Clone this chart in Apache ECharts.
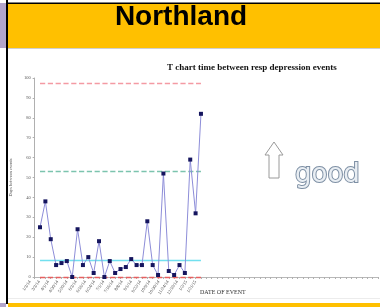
<!DOCTYPE html>
<html>
<head>
<meta charset="utf-8">
<script src="https://cdn.jsdelivr.net/npm/echarts@6/dist/echarts.min.js"></script>
<style>
  html, body { margin: 0; padding: 0; background: #fff; }
  #chart { width: 380px; height: 307px; }
</style>
</head>
<body>
<div id="chart"></div>
<script>
// days between events, one per event
const daysBetween = [25, 38, 19, 6, 7, 8, 0, 24, 6, 10, 2, 18, 0, 8, 2, 4, 5, 9, 6, 6, 28, 6, 1, 52, 3, 1, 6, 2, 59, 32, 82]
// date labels shown under the axis (blurry in the source, estimated)
const dateLabels = ['1/3/14', '3/3/14', '4/1/14', '4/30/14', '5/20/14', '6/3/14', '6/16/14', '6/24/14', '7/1/14', '7/16/14', '8/8/14', '9/1/14', '9/22/14', '10/9/14', '10/30/14', '11/24/14', '12/10/14', '1/2/15', '1/21/15']
const yTicks = [0, 10, 20, 30, 40, 50, 60, 70, 80, 90, 100]
// control lines
const ucl = 97.5
const upperWarn = 52.9
const centre = 8.5
const lcl = 0
const slotCount = 65 // category slots on the axis (mostly empty on the right)

const cats = Array.from({length: slotCount}, (_, i) => String(i))
const seriesData = cats.map((c, i) => (i >= 1 && i <= daysBetween.length ? daysBetween[i - 1] : '-'))
const firstCat = cats[1]
const lastCat = cats[daysBetween.length]

// 控制线：只画在有数据的范围内
const hline = (v, color, dashed) => {
  const ls = {color: color, width: 1.3, type: dashed ? 'dashed' : 'solid', opacity: 1}
  return {
    type: 'line',
    xAxisIndex: 0,
    yAxisIndex: 0,
    data: [],
    z: 4,
    markLine: {
      symbol: 'none',
      silent: true,
      label: {show: false},
      lineStyle: ls,
      emphasis: {disabled: true},
      data: [[{coord: [firstCat, v], lineStyle: ls}, {coord: [lastCat, v]}]],
    },
  }
}

const chart = echarts.init(document.getElementById('chart'), null, {renderer: 'canvas'})

chart.setOption({
  animation: false,
  backgroundColor: '#fff',
  title: {
    text: 'T chart time between resp depression events',
    left: 162,
    top: 58,
    textStyle: {fontFamily: 'Liberation Serif', fontWeight: 'bold', fontSize: 9, color: '#111'},
  },
  grid: [
    {left: 23, right: 2, top: 78, bottom: 30},
    {left: 30, right: 184.4, top: 78, bottom: 30},
  ],
  xAxis: [
    {
      type: 'category',
      gridIndex: 0,
      data: cats,
      boundaryGap: false,
      z: 1,
      axisLine: {lineStyle: {color: '#b8b8b8', width: 1}},
      axisTick: {show: true, interval: 0, length: 2, lineStyle: {color: '#b0b0b0'}},
      axisLabel: {show: false},
      splitLine: {show: false},
    },
    {
      type: 'category',
      gridIndex: 1,
      data: dateLabels,
      boundaryGap: false,
      axisLine: {show: false},
      axisTick: {show: false},
      axisLabel: {
        interval: 0,
        rotate: 55,
        margin: 4,
        fontSize: 4.5,
        fontFamily: 'Liberation Serif',
        color: '#444',
      },
    },
  ],
  yAxis: [
    {
      type: 'value',
      gridIndex: 0,
      min: 0,
      max: 100,
      interval: 10,
      name: 'Days between events',
      nameLocation: 'middle',
      nameGap: 9,
      nameTextStyle: {fontSize: 4.5, color: '#555', fontFamily: 'Liberation Serif'},
      axisLine: {show: true, lineStyle: {color: '#b0b0b0'}},
      axisTick: {show: true, length: 2, lineStyle: {color: '#b0b0b0'}},
      axisLabel: {
        fontSize: 4.5,
        margin: 4,
        color: '#555',
        fontFamily: 'Liberation Serif',
        formatter: (v) => (yTicks.includes(v) ? String(v) : ''),
      },
      splitLine: {show: false},
    },
    {type: 'value', gridIndex: 1, show: false, min: 0, max: 100},
  ],
  series: [
    hline(ucl, '#f49aa3', true),
    hline(upperWarn, '#7cc4ae', true),
    hline(centre, '#72e0ef', false),
    hline(lcl, '#e86060', true),
    {
      type: 'line',
      xAxisIndex: 0,
      yAxisIndex: 0,
      data: seriesData,
      connectNulls: false,
      showSymbol: true,
      showAllSymbol: true,
      symbol: 'rect',
      symbolSize: 4,
      itemStyle: {color: '#15155e'},
      lineStyle: {color: '#8d8dd8', width: 1},
      z: 6,
    },
  ],
  graphic: [
    // frame: header band, borders
    {type: 'rect', shape: {x: 0, y: 3, width: 6, height: 45}, style: {fill: '#b3a5cc'}},
    {type: 'rect', shape: {x: 8, y: 4, width: 372, height: 44}, style: {fill: '#ffc000'}},
    {type: 'rect', shape: {x: 6, y: 2.5, width: 374, height: 1.5}, style: {fill: '#000'}},
    {type: 'rect', shape: {x: 6, y: 0, width: 2, height: 304}, style: {fill: '#000'}},
    {type: 'rect', shape: {x: 8, y: 48, width: 372, height: 1}, style: {fill: '#cfcfcf'}},
    {type: 'rect', shape: {x: 8, y: 298, width: 372, height: 1}, style: {fill: '#ececec'}},
    {type: 'rect', shape: {x: 8, y: 303, width: 372, height: 4}, style: {fill: '#ffc000'}},
    {type: 'rect', shape: {x: 0, y: 303, width: 6, height: 4}, style: {fill: '#b3a5cc'}},
    {
      type: 'text',
      x: 181,
      y: 17,
      style: {
        text: 'Northland',
        font: 'bold 28px "Liberation Sans", Arial, sans-serif',
        fill: '#000',
        textAlign: 'center',
        textVerticalAlign: 'middle',
      },
    },
    {
      type: 'text',
      x: 200,
      y: 289,
      style: {text: 'DATE OF EVENT', font: '6px "Liberation Serif", serif', fill: '#333'},
    },
    // hollow arrow
    {
      type: 'polygon',
      shape: {points: [[274, 142], [283, 155], [279, 155], [279, 178], [269, 178], [269, 155], [265, 155]]},
      style: {fill: '#fff', stroke: '#9a9a9a', lineWidth: 1},
    },
    {
      type: 'text',
      x: 295,
      y: 162,
      style: {
        text: 'good',
        font: '26px "DejaVu Sans", sans-serif',
        fill: '#e9eef3',
        stroke: '#7d8fa4',
        lineWidth: 2,
      },
    },
  ],
})
</script>
</body>
</html>
